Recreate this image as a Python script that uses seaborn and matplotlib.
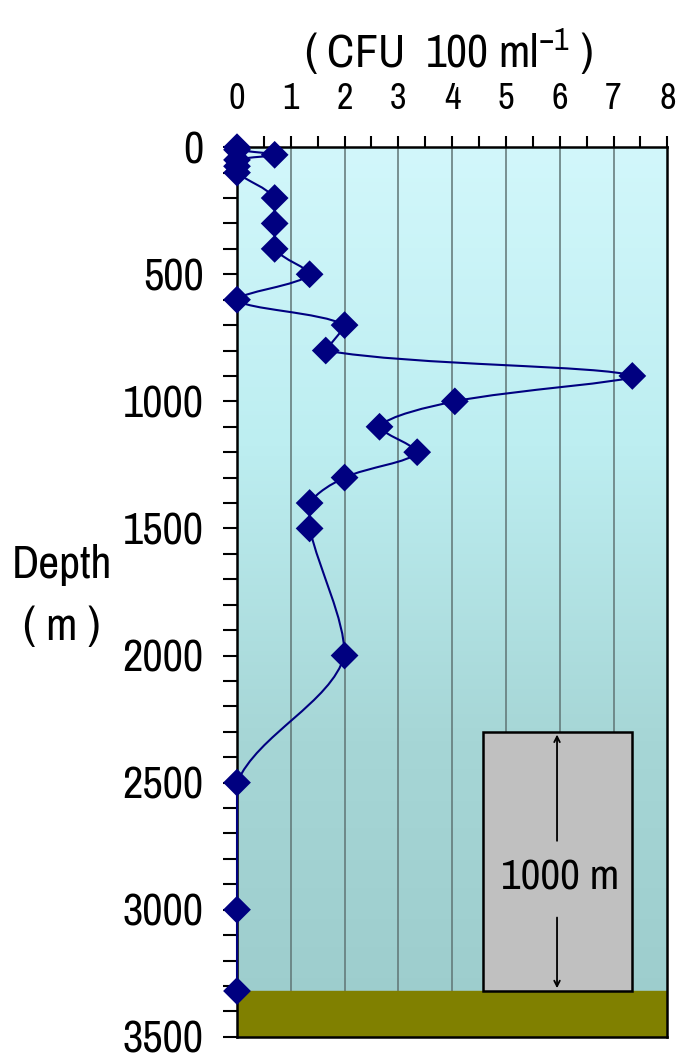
import os
import numpy as np
import matplotlib
matplotlib.use("Agg")
import matplotlib.pyplot as plt
from matplotlib import font_manager as fm
from matplotlib.path import Path
from matplotlib.patches import PathPatch, Rectangle
import seaborn as sns

# Werte
depth_m = [0, 10, 30, 50, 75, 100, 200, 300, 400, 500, 600, 700, 800, 900,
           1000, 1100, 1200, 1300, 1400, 1500, 2000, 2500, 3000, 3320]
cfu = [0, 0, 0.7, 0, 0, 0, 0.7, 0.7, 0.7, 1.35, 0, 2.0, 1.65, 7.35,
       4.05, 2.65, 3.35, 2.0, 1.35, 1.35, 2.0, 0, 0, 0]
x_ticks = [0, 1, 2, 3, 4, 5, 6, 7, 8]
y_ticks = [0, 500, 1000, 1500, 2000, 2500, 3000, 3500]
seafloor = 3320
scale_box = [4.57, 7.35, 2300]   # links, rechts, Oberkante

sns.set_style("white")

# schmale Schrift suchen (Original ist eine enge Windows-Schrift)
font_file = None
for f in sorted(fm.fontManager.ttflist, key=lambda f: ('Narrow' not in f.fname, f.fname)):
    b = os.path.basename(f.fname)
    if ('Narrow' in b or 'Condensed' in b) and f.weight in (400, 'normal') \
            and f.style == 'normal' and 'Mono' not in b and 'Serif' not in b:
        font_file = f.fname
        break
if font_file:
    fp = fm.FontProperties(fname=font_file)
    fam = fp.get_name()
    plt.rcParams['font.stretch'] = fp.get_stretch()
    k = 1.0 if 'Narrow' in font_file else 0.88
else:
    fam = 'DejaVu Sans'
    k = 0.78
plt.rcParams['font.family'] = [fam, 'DejaVu Sans']
plt.rcParams['text.color'] = 'black'
plt.rcParams['xtick.color'] = 'black'
plt.rcParams['ytick.color'] = 'black'

fig = plt.figure(figsize=(6.83, 10.59), dpi=100)
ax = fig.add_axes([0.347, 0.021, 0.630, 0.840])
ax.set_xlim(0, 8)
ax.set_ylim(3500, 0)

# Hintergrund (Farbverlauf Wasser)
grad = np.linspace(0, 1, 256)[:, None]
cmap = matplotlib.colors.LinearSegmentedColormap.from_list(
    "water", ["#d2f7fb", "#bdeef1", "#a6d6d6", "#9ccccc"])
ax.imshow(grad, extent=[0, 8, 3500, 0], aspect='auto', origin='upper',
          cmap=cmap, zorder=0)

# senkrechte Gitterlinien
for xv in x_ticks[1:-1]:
    ax.axvline(xv, color='#5f7474', lw=1.1, zorder=1)

# Meeresboden
ax.axhspan(seafloor, 3500, color='#808000', zorder=2)

# Massstab-Kasten 1000 m
ax.add_patch(Rectangle((scale_box[0], scale_box[2]), scale_box[1] - scale_box[0],
                       seafloor - scale_box[2], facecolor='#c0c0c0',
                       edgecolor='black', lw=1.8, zorder=3))
xm = 5.95
ax.annotate('', xy=(xm, scale_box[2]), xytext=(xm, 2740),
            arrowprops=dict(arrowstyle='->', lw=1.3, color='black'), zorder=4)
ax.annotate('', xy=(xm, seafloor), xytext=(xm, 3020),
            arrowprops=dict(arrowstyle='->', lw=1.3, color='black'), zorder=4)
ax.text(6.0, 2875, '1000 m', ha='center', va='center', fontsize=31 * k, zorder=4)

# geglaettete Linie wie in Excel (Bezier in Pixeln, ohne seitliches Ueberschwingen)
pts = ax.transData.transform(np.column_stack([cfu, depth_m]))
ext = np.vstack([pts[0], pts, pts[-1]])
verts = [pts[0]]
codes = [Path.MOVETO]
for i in range(len(pts) - 1):
    p0, p1, p2, p3 = ext[i], ext[i + 1], ext[i + 2], ext[i + 3]
    d01 = np.hypot(*(p1 - p0)); d12 = np.hypot(*(p2 - p1)); d23 = np.hypot(*(p3 - p2))
    c1 = p1 + (p2 - p0) * d12 / max(d01 + d12, 1e-9) / 3
    c2 = p2 - (p3 - p1) * d12 / max(d12 + d23, 1e-9) / 3
    lo, hi = min(p1[0], p2[0]), max(p1[0], p2[0])
    c1[0] = np.clip(c1[0], lo, hi)
    c2[0] = np.clip(c2[0], lo, hi)
    verts += [c1, c2, p2]
    codes += [Path.CURVE4] * 3
verts = ax.transData.inverted().transform(np.array(verts))
ax.add_patch(PathPatch(Path(verts, codes), facecolor='none', edgecolor='#000080',
                       lw=1.5, zorder=5, clip_on=False))

sns.scatterplot(x=cfu, y=depth_m, marker='D', s=200, color='#000080',
                edgecolor='none', zorder=6, clip_on=False, ax=ax)

ax.set_xlim(0, 8)
ax.set_ylim(3500, 0)

ax.xaxis.tick_top()
ax.set_xticks(x_ticks)
ax.set_xticks(np.arange(0.5, 8, 1), minor=True)
ax.set_yticks(y_ticks)
ax.set_yticks(np.arange(0, 3501, 100), minor=True)
ax.tick_params(axis='x', which='both', top=True, bottom=False, direction='out',
               length=8, width=1.5, color='black', labelsize=26 * k, pad=15)
ax.tick_params(axis='y', which='both', left=True, right=False, direction='out',
               length=10, width=1.5, color='black', labelsize=32 * k, pad=14)
for s in ax.spines.values():
    s.set_visible(True)
    s.set_color('black')
    s.set_linewidth(1.8)
ax.set_xlabel('')
ax.set_ylabel('')

fig.text(448 / 683, 1 - 52 / 1059, '( CFU  100 ml$^{\\mathregular{-1}}$ )',
         ha='center', va='center', fontsize=33 * k)
fig.text(62 / 683, 1 - 565 / 1059, 'Depth', ha='center', va='center',
         fontsize=33 * k)
fig.text(62 / 683, 1 - 627 / 1059, '( m )', ha='center', va='center',
         fontsize=33 * k)

fig.savefig("out.png", dpi=100)
